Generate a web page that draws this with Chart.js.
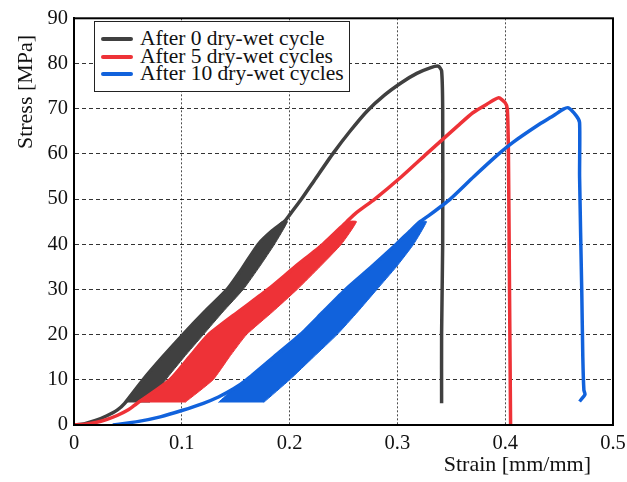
<!DOCTYPE html>
<html lang="en">
<head>
    <meta charset="UTF-8">
    <title>Stress-strain curves after dry-wet cycles</title>
    <script src="https://cdn.jsdelivr.net/npm/chart.js"></script>
    <style>
        body { margin: 0; background: #fff; }
        #wrap { position: relative; width: 627px; height: 482px; }
        #legend {
            position: absolute; left: 94px; top: 21px;
            width: 256px; height: 71px; box-sizing: border-box;
            border: 1px solid #222; background: #fff;
            padding: 8px 0 0 6px;
            font-family: "Liberation Serif", serif; font-size: 21.5px; line-height: 17.6px;
            color: #111;
        }
        #legend div { white-space: nowrap; }
        #legend span.key {
            display: inline-block; width: 32px; height: 4px; border-radius: 2px;
            vertical-align: middle; margin-right: 7px; position: relative; top: -1px;
        }
    </style>
</head>
<body>
    <div id="wrap">
        <canvas id="stressChart" width="627" height="482"></canvas>
        <div id="legend"></div>
    </div>
    <script>
        const seriesLabels = ['After 0 dry-wet cycle', 'After 5 dry-wet cycles', 'After 10 dry-wet cycles'];
        const seriesColors = ['#404040', '#ee3237', '#1162dc'];
        const strainTicks = ['0', '0.1', '0.2', '0.3', '0.4', '0.5'];
        const stressTicks = ['0', '10', '20', '30', '40', '50', '60', '70', '80', '90'];

        // After 0 cycles: envelope curve
        const c0Strain = [0, 0.01, 0.02, 0.03, 0.04, 0.047, 0.064, 0.082, 0.101, 0.121, 0.142, 0.157, 0.171, 0.184, 0.195, 0.2, 0.211, 0.224, 0.24, 0.256, 0.272, 0.288, 0.304, 0.318, 0.331, 0.338, 0.341, 0.342, 0.342, 0.341, 0.341];
        const c0Stress = [0, 0.3, 1.0, 2.0, 3.3, 4.8, 10, 15, 20, 25, 30, 35, 40, 43, 45, 46.5, 50, 54.5, 60, 65, 69.5, 73, 75.8, 77.8, 79.1, 79.4, 78.4, 70, 40, 20, 4.8];
        // After 0 cycles: outline of the loading/unloading loops
        const c0LoopStrain = [0.047, 0.064, 0.082, 0.101, 0.121, 0.142, 0.157, 0.171, 0.184, 0.193, 0.198, 0.186, 0.172, 0.157, 0.138, 0.12, 0.102, 0.085, 0.07];
        const c0LoopStress = [5, 10, 15, 20, 25, 30, 35, 40, 43, 45, 45, 40, 35, 30, 25, 20, 15, 10, 5];

        // After 5 cycles
        const c5Strain = [0, 0.01, 0.02, 0.03, 0.04, 0.05, 0.058, 0.089, 0.107, 0.125, 0.152, 0.18, 0.205, 0.231, 0.253, 0.262, 0.279, 0.304, 0.327, 0.342, 0.356, 0.37, 0.383, 0.394, 0.4, 0.402, 0.403, 0.404, 0.405];
        const c5Stress = [0, 0.15, 0.55, 1.2, 2.1, 3.3, 4.7, 10, 15, 20, 25, 30, 35, 40, 45, 47, 50, 55, 60, 63.2, 66.2, 69.1, 71, 72.4, 71.3, 69.9, 60, 30, 0];
        const c5LoopStrain = [0.058, 0.089, 0.107, 0.125, 0.152, 0.18, 0.205, 0.231, 0.245, 0.253, 0.262, 0.248, 0.228, 0.207, 0.184, 0.16, 0.144, 0.129, 0.103];
        const c5LoopStress = [5, 10, 15, 20, 25, 30, 35, 40, 43, 45, 45, 40, 35, 30, 25, 20, 15, 10, 5];

        // After 10 cycles
        const c10Strain = [0.036, 0.06, 0.08, 0.1, 0.12, 0.134, 0.148, 0.16, 0.185, 0.21, 0.231, 0.252, 0.276, 0.299, 0.312, 0.321, 0.33, 0.349, 0.371, 0.394, 0.4075, 0.432, 0.445, 0.454, 0.4585, 0.466, 0.469, 0.469, 0.471, 0.472, 0.473, 0.474, 0.469];
        const c10Stress = [0, 0.8, 1.8, 3.2, 4.8, 6.2, 8, 10, 15, 20, 25, 30, 35, 40, 43, 45, 46.5, 50, 55, 60, 62.6, 66.6, 68.5, 69.9, 70.2, 68.4, 66.9, 55, 30, 15, 7.7, 6.8, 5.2];
        const c10LoopStrain = [0.134, 0.148, 0.16, 0.185, 0.21, 0.231, 0.252, 0.276, 0.299, 0.312, 0.321, 0.327, 0.315, 0.299, 0.281, 0.263, 0.244, 0.222, 0.2, 0.176];
        const c10LoopStress = [5, 8, 10, 15, 20, 25, 30, 35, 40, 43, 45, 45, 40, 35, 30, 25, 20, 15, 10, 5];

        const curves = [[c0Strain, c0Stress], [c5Strain, c5Stress], [c10Strain, c10Stress]];
        const loops = [[c0LoopStrain, c0LoopStress], [c5LoopStrain, c5LoopStress], [c10LoopStrain, c10LoopStress]];

        function pts(xs, ys) {
            return xs.map((x, i) => ({ x: x, y: ys[i] }));
        }

        const datasets = [];
        curves.forEach((c, i) => {
            datasets.push({
                label: seriesLabels[i],
                data: pts(c[0], c[1]),
                borderColor: seriesColors[i],
                borderWidth: 3.5,
                pointRadius: 0,
                tension: 0.2,
                fill: false,
                order: 10 - 2 * i
            });
            // filled band of the cyclic loops (vertical index axis so the fill isn't clipped in x)
            datasets.push({
                label: seriesLabels[i] + ' loops',
                data: pts(loops[i][0], loops[i][1]),
                indexAxis: 'y',
                borderColor: seriesColors[i],
                backgroundColor: seriesColors[i],
                borderWidth: 1,
                pointRadius: 0,
                tension: 0.15,
                fill: 'shape',
                order: 11 - 2 * i
            });
        });

        // solid box around the plot area
        const frame = {
            id: 'frame',
            afterDatasetsDraw(chart) {
                const { ctx, chartArea: a } = chart;
                ctx.save();
                ctx.strokeStyle = '#000';
                ctx.lineWidth = 2;
                ctx.strokeRect(a.left, a.top, a.right - a.left, a.bottom - a.top);
                ctx.restore();
            }
        };

        Chart.defaults.font.family = '"Liberation Serif", serif';
        const tickFont = { family: '"Liberation Serif", serif', size: 20.5 };
        const titleFont = { family: '"Liberation Serif", serif', size: 22 };

        const ctx = document.getElementById('stressChart').getContext('2d');
        const chart = new Chart(ctx, {
            type: 'line',
            data: { datasets: datasets },
            plugins: [frame],
            options: {
                responsive: false,
                animation: false,
                events: [],
                layout: { padding: { top: 15, right: 14, left: 0, bottom: 0 } },
                plugins: { legend: { display: false }, tooltip: { enabled: false } },
                scales: {
                    x: {
                        type: 'linear',
                        min: 0,
                        max: 0.5,
                        afterFit: s => { s.height = 57; s.paddingRight = 0; },
                        afterBuildTicks: s => { s.ticks = strainTicks.map(t => ({ value: parseFloat(t) })); },
                        ticks: {
                            callback: (v, i) => strainTicks[i],
                            font: tickFont,
                            color: '#111',
                            padding: 6,
                            maxRotation: 0
                        },
                        grid: { color: 'rgba(0,0,0,0.7)', drawTicks: false },
                        border: { color: '#000', width: 2, dash: [2, 2] },
                        title: {
                            display: true,
                            text: 'Strain [mm/mm]    ',
                            align: 'end',
                            font: titleFont,
                            color: '#111',
                            padding: { top: 0, bottom: 4 }
                        }
                    },
                    y: {
                        min: 0,
                        max: 90,
                        afterFit: s => { s.width = 74; },
                        afterBuildTicks: s => { s.ticks = stressTicks.map(t => ({ value: parseFloat(t) })); },
                        ticks: {
                            callback: (v, i) => stressTicks[i],
                            font: tickFont,
                            color: '#111',
                            padding: 6
                        },
                        grid: { color: 'rgba(0,0,0,0.8)', drawTicks: false },
                        border: { color: '#000', width: 2, dash: [4, 3] },
                        title: {
                            display: true,
                            text: 'Stress [MPa]   ',
                            align: 'end',
                            font: titleFont,
                            color: '#111',
                            padding: { top: 13, bottom: 0 }
                        }
                    }
                }
            }
        });

        // legend box inside the plot, top left
        const legend = document.getElementById('legend');
        seriesLabels.forEach((label, i) => {
            const row = document.createElement('div');
            const key = document.createElement('span');
            key.className = 'key';
            key.style.background = seriesColors[i];
            row.appendChild(key);
            row.appendChild(document.createTextNode(label));
            legend.appendChild(row);
        });
    </script>
</body>
</html>
